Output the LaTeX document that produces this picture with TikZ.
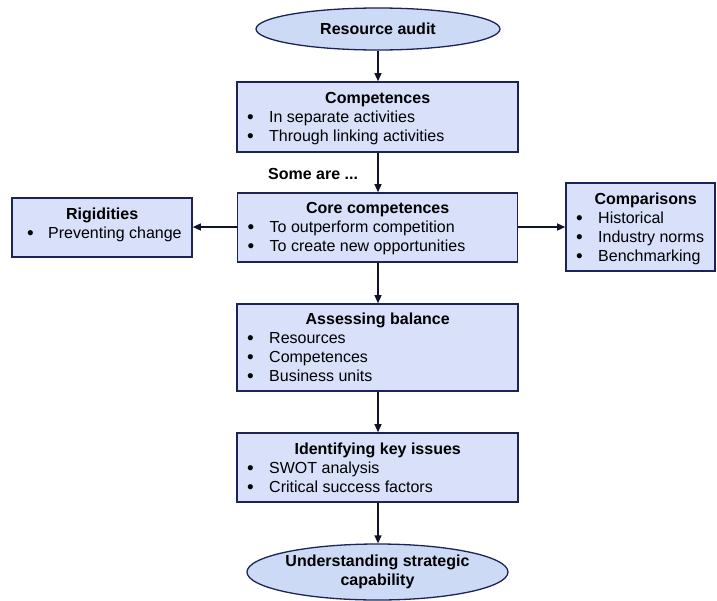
\documentclass[tikz,border=0pt]{standalone}
\usepackage{fontspec}
\setmainfont{Liberation Sans}
\usetikzlibrary{arrows.meta,shapes.geometric,calc}
\definecolor{boxfill}{RGB}{216,224,250}
\definecolor{ellfill}{RGB}{204,218,245}
\definecolor{navy}{RGB}{28,36,86}
\definecolor{arrowc}{RGB}{16,20,40}
\newcommand{\bdot}{\raisebox{-0.8pt}{\fontsize{19}{19}\selectfont\textbullet}}
\newcommand{\bitm}[1]{\par\hspace*{10pt}\makebox[22pt][l]{\bdot}#1}
\newcommand{\bitmr}[1]{\par\hspace*{15pt}\makebox[21pt][l]{\bdot}#1}
\newcommand{\btitle}[1]{\centering\textbf{#1}\par\raggedright}
\tikzset{
  panel/.style={draw=navy, line width=1.6pt, fill=boxfill, rectangle, inner sep=0pt},
  oval/.style={draw=navy, line width=1.3pt, fill=ellfill, ellipse, inner sep=0pt, font=\fontsize{16}{19.3}\selectfont\bfseries, align=center},
  txt/.style={anchor=base west, inner sep=0pt, font=\fontsize{16}{19.3}\selectfont},
  link/.style={draw=arrowc, line width=1.3pt, -{Triangle[length=8pt,width=7pt]}},
}
\newcommand{\contents}[2]{\begin{minipage}[t]{#1}\fontsize{16}{19.3}\selectfont #2\end{minipage}}
\begin{document}
\begin{tikzpicture}[x=1pt,y=-1pt]
\useasboundingbox (0,0) rectangle (717,600);
% ellipses
\node[oval, minimum width=244pt, minimum height=42pt] (audit) at (378,29) {Resource audit};
\node[oval, minimum width=261pt, minimum height=56pt] (under) at (377.5,572) {Understanding strategic\\capability};
% boxes
\node[panel, minimum width=281pt, minimum height=70pt] (comp) at (377.5,117) {};
\node[panel, minimum width=280pt, minimum height=69pt] (core) at (377.5,227.5) {};
\node[panel, minimum width=180pt, minimum height=59pt] (rig) at (102,227.5) {};
\node[panel, minimum width=149pt, minimum height=88pt] (cmp) at (640.5,227) {};
\node[panel, minimum width=281pt, minimum height=87pt] (assess) at (377.5,347.5) {};
\node[panel, minimum width=281pt, minimum height=69pt] (ident) at (377.5,467.5) {};
% contents
\node[txt] (compT) at (237,103) {\contents{281pt}{\btitle{Competences}\bitm{In separate activities}\bitm{Through linking activities}}};
\node[txt] (coreT) at (237.5,213) {\contents{280pt}{\btitle{Core competences}\bitm{To outperform competition}\bitm{To create new opportunities}}};
\node[txt] (rigT) at (12,219) {\contents{180pt}{\btitle{Rigidities}\bitmr{Preventing change}}};
\node[txt] (cmpT) at (566,204) {\contents{149pt}{\btitle{\hspace*{10pt}Comparisons}\bitm{Historical}\bitm{Industry norms}\bitm{Benchmarking}}};
\node[txt] (assessT) at (237,324) {\contents{281pt}{\btitle{Assessing balance}\bitm{Resources}\bitm{Competences}\bitm{Business units}}};
\node[txt] (identT) at (237,454) {\contents{281pt}{\btitle{Identifying key issues}\bitm{SWOT analysis}\bitm{Critical success factors}}};
\node[txt, font=\fontsize{16}{19.3}\selectfont\bfseries] (some) at (268,179) {Some are ...};
% connectors
\draw[link] (audit.south -| 378,0) -- (comp.north -| 378,0);
\draw[link] (comp.south -| 378,0) -- (core.north -| 378,0);
\draw[link] (core.south -| 378,0) -- (assess.north -| 378,0);
\draw[link] (assess.south -| 378,0) -- (ident.north -| 378,0);
\draw[link] (ident.south -| 378,0) -- (under.north -| 378,0);
\draw[link] (core.west |- 0,227) -- (rig.east |- 0,227);
\draw[link] (core.east |- 0,227) -- (cmp.west |- 0,227);
\end{tikzpicture}
\end{document}
